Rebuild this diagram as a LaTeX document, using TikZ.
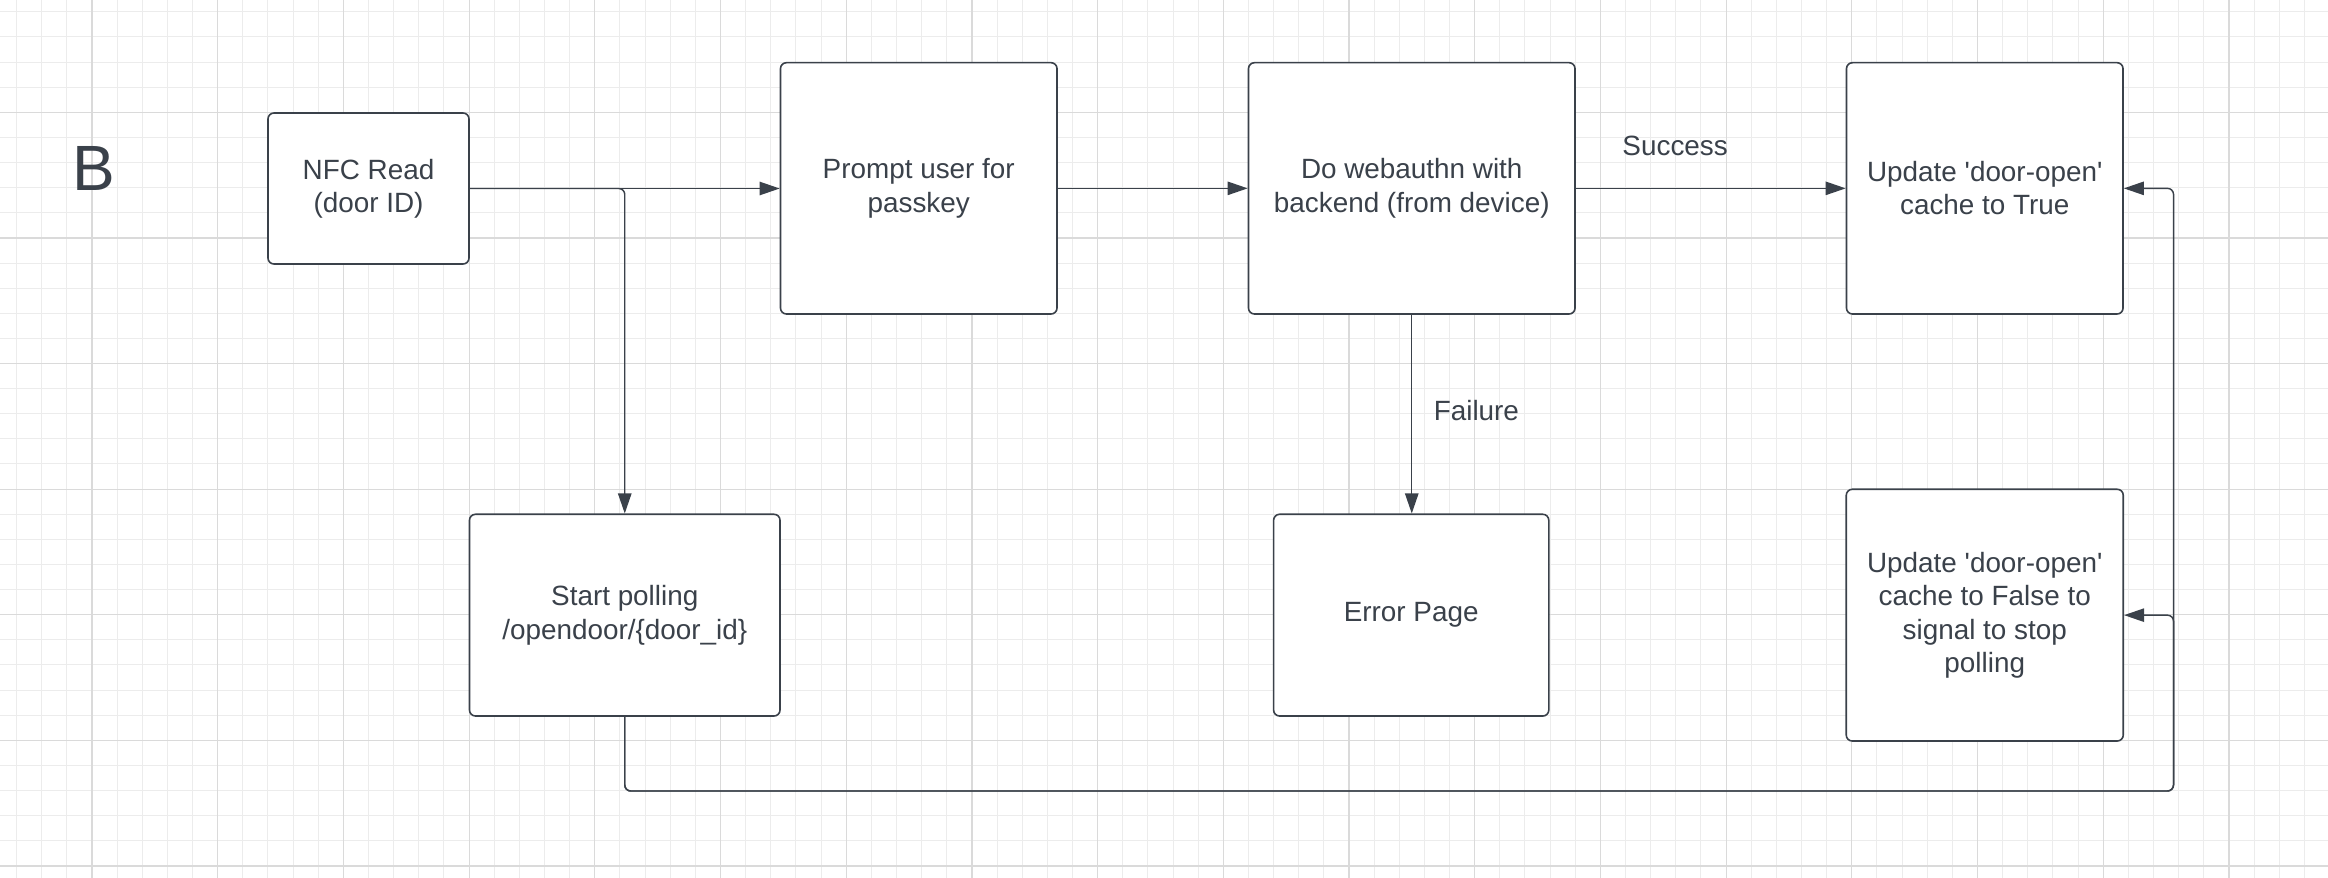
\documentclass[tikz,border=0pt]{standalone}
\usepackage{fontspec}
\setmainfont{Liberation Sans}
\usetikzlibrary{arrows.meta}
\definecolor{ink}{RGB}{58,65,74}
\definecolor{gridminor}{RGB}{236,236,236}
\definecolor{gridmajor}{RGB}{218,218,218}
\begin{document}
\begin{tikzpicture}[x=0.75pt,y=-0.75pt,
  box/.style={draw=ink, line width=1.2pt, rounded corners=4.5pt, fill=white, align=center, text=ink, font=\fontsize{20.9}{25}\selectfont, inner sep=0pt},
  conn/.style={draw=ink, line width=1.1pt, -{Triangle[length=15pt,width=10pt]}, rounded corners=4.5pt},
  lbl/.style={text=ink, font=\fontsize{20.9}{25}\selectfont, inner sep=0pt},
  minorline/.style={draw=gridminor, line width=0.75pt},
  majorline/.style={draw=gridmajor, line width=0.9pt}]
\useasboundingbox (0,0) rectangle (2328,878);
\fill[white] (0,0) rectangle (2328,878);
% grid
\foreach \i in {-3,...,88} {
  \pgfmathsetmacro\xx{92+25.14*\i}
  \draw[minorline] (\xx,0) -- (\xx,878);
}
\foreach \j in {-4,...,30} {
  \pgfmathsetmacro\yy{112.3+25.12*\j}
  \draw[minorline] (0,\yy) -- (2328,\yy);
}
\foreach \i in {0,5,...,85} {
  \pgfmathsetmacro\xx{92+25.14*\i}
  \draw[majorline] (\xx,0) -- (\xx,878);
}
\foreach \j in {0,5,...,30} {
  \pgfmathsetmacro\yy{112.3+25.12*\j}
  \draw[majorline] (0,\yy) -- (2328,\yy);
}
% title
\node[text=ink, font=\fontsize{48}{56}\selectfont, inner sep=0pt] (lblB) at (93.5,168) {B};
% boxes
\node[box, minimum width=150.75pt, minimum height=113.25pt] (nfc) at (368.5,188.5) {NFC Read\\(door ID)};
\node[box, minimum width=207.4pt, minimum height=188.5pt] (prompt) at (918.75,188.35) {Prompt user for\\passkey};
\node[box, minimum width=244.9pt, minimum height=188.5pt] (web) at (1411.75,188.35) {Do webauthn with\\backend (from device)};
\node[box, minimum width=207.4pt, minimum height=188.5pt] (updtrue) at (1984.75,188.35) {Update \textquotesingle door-open\textquotesingle\\cache to True};
\node[box, minimum width=232.9pt, minimum height=151.3pt] (poll) at (624.75,615.15) {Start polling\\/opendoor/\{door\_id\}};
\node[box, minimum width=206.4pt, minimum height=151.3pt] (err) at (1411.2,615.15) {Error Page};
\node[box, minimum width=207.75pt, minimum height=188.8pt] (updfalse) at (1984.75,615.15) {Update \textquotesingle door-open\textquotesingle\\cache to False to\\signal to stop\\polling};
\coordinate (br) at (2173.5,791);
% connectors
\draw[conn] (nfc.east) -- (nfc.east -| prompt.west);
\draw[conn] (nfc.east) -| (poll.north);
\draw[conn] (prompt.east) -- (web.west);
\draw[conn] (web.east) -- (web.east -| updtrue.west)
  node[lbl, pos=0.368, anchor=base, yshift=24.75pt] {Success};
\draw[conn] (web.south) -- (web.south |- err.north)
  node[lbl, pos=0.533, anchor=base west, xshift=16pt] {Failure};
\draw[conn] (poll.south) |- (br) |- (updfalse.east);
\draw[conn] (poll.south) |- (br) |- (updtrue.east);
\end{tikzpicture}
\end{document}
